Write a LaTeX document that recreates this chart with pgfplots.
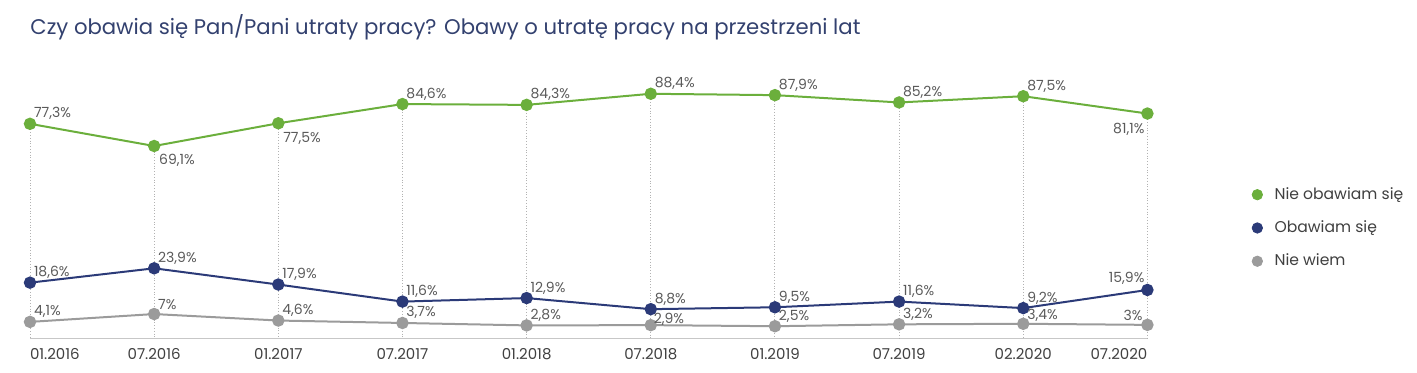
\documentclass[border=0pt]{standalone}
\usepackage{pgfplots}
\pgfplotsset{compat=1.18}
\usepackage{fontspec}
\setmainfont{Poppins}

\definecolor{cgreen}{HTML}{6BAF3C}
\definecolor{cblue}{HTML}{2B3A78}
\definecolor{cgray}{HTML}{9B9B9B}
\definecolor{ctitle}{HTML}{33416F}
\definecolor{clabel}{HTML}{5A5A5A}

\pgfplotsset{
  lbl/.style={
    line width=1pt, mark=*, mark size=2.6pt, forget plot,
    nodes near coords={\pgfmathprintnumber{\pgfplotspointmeta}\%},
    point meta=y,
    every node near coord/.append style={font=\fontsize{7}{8}\selectfont, text=clabel, inner sep=1pt},
    coordinate style/.condition={1}{anchor=south west, xshift=0.5pt, yshift=0.5pt},
  }
}

\begin{document}
\begin{tikzpicture}
\useasboundingbox (0,0) rectangle (708.5pt,186.5pt);
\node[anchor=base west, font=\fontsize{10.6}{12}\selectfont, text=ctitle, inner sep=0pt] at (15pt,169pt)
  {Czy obawia się Pan/Pani utraty pracy? Obawy o utratę pracy na przestrzeni lat};
\begin{axis}[
  at={(15pt,17.3pt)}, anchor=south west,
  scale only axis, width=558.7pt, height=138pt,
  xmin=0, xmax=9, ymin=-2, ymax=100,
  axis x line*=bottom, axis y line=none,
  x axis line style={draw=black!22, line width=0.6pt},
  xtick={0,...,9},
  xticklabels={\makebox[0pt][l]{01.2016},07.2016,01.2017,07.2017,01.2018,07.2018,01.2019,07.2019,02.2020,\makebox[0pt][r]{07.2020}},
  major tick length=0pt,
  xticklabel style={font=\fontsize{7.5}{8}\selectfont, text=black!75, yshift=-1.5pt},
  clip=false,
  /pgf/number format/.cd, use comma, fixed, precision=1, assume math mode=true,
  /pgfplots/.cd,
  legend style={at={(1.088,0.578)}, anchor=north west, draw=none, fill=none,
    font=\fontsize{7.8}{9}\selectfont, text=black!75, row sep=5.2pt,
    /tikz/column 1/.style={column sep=4pt}},
  legend cell align=left,
]
% dotted drop lines from the top series down to the axis line
\addplot[draw=none, mark=none, forget plot,
  error bars/.cd, y dir=minus, y explicit, error mark=none,
  error bar style={densely dotted, draw=black!30, line width=0.5pt}]
  coordinates {(0,77.3) -= (0,79.3) (1,69.1) -= (0,71.1) (2,77.5) -= (0,79.5) (3,84.6) -= (0,86.6)
    (4,84.3) -= (0,86.3) (5,88.4) -= (0,90.4) (6,87.9) -= (0,89.9) (7,85.2) -= (0,87.2)
    (8,87.5) -= (0,89.5) (9,81.1) -= (0,83.1)};
% Nie obawiam się
\addplot[color=cgreen, lbl,
  coordinate style/.condition={x>0.5 && x<2.5}{anchor=north west, xshift=0.5pt, yshift=-3.3pt},
  coordinate style/.condition={x>8.5}{anchor=north east, xshift=-0.5pt, yshift=-4pt}]
  coordinates {(0,77.3)(1,69.1)(2,77.5)(3,84.6)(4,84.3)(5,88.4)(6,87.9)(7,85.2)(8,87.5)(9,81.1)};
% Obawiam się
\addplot[color=cblue, lbl,
  coordinate style/.condition={x>8.5}{anchor=south east, xshift=-0.5pt, yshift=0.5pt}]
  coordinates {(0,18.6)(1,23.9)(2,17.9)(3,11.6)(4,12.9)(5,8.8)(6,9.5)(7,11.6)(8,9.2)(9,15.9)};
% Nie wiem
\addplot[color=cgray, lbl,
  coordinate style/.condition={x>4.5 && x<5.5}{xshift=-0.5pt, yshift=-2.2pt},
  coordinate style/.condition={x>7.5 && x<8.5}{yshift=-1pt},
  coordinate style/.condition={x>8.5}{anchor=south east, xshift=-1.5pt}]
  coordinates {(0,4.1)(1,7)(2,4.6)(3,3.7)(4,2.8)(5,2.9)(6,2.5)(7,3.2)(8,3.4)(9,3)};
\addlegendimage{only marks, mark=*, mark size=2.6pt, color=cgreen}
\addlegendentry{Nie obawiam się}
\addlegendimage{only marks, mark=*, mark size=2.6pt, color=cblue}
\addlegendentry{Obawiam się}
\addlegendimage{only marks, mark=*, mark size=2.6pt, color=cgray}
\addlegendentry{Nie wiem}
\end{axis}
\end{tikzpicture}
\end{document}
